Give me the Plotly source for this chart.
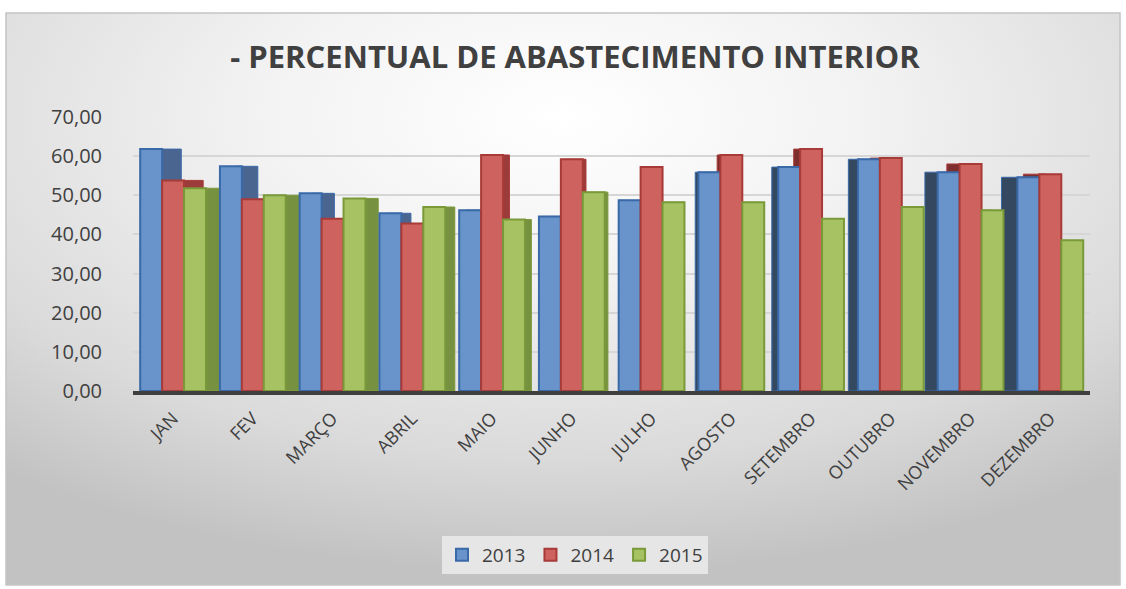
import base64
import plotly.graph_objects as go

# Monthly share of interior supply (%), by year
meses = ["JAN", "FEV", "MARÇO", "ABRIL", "MAIO", "JUNHO", "JULHO",
         "AGOSTO", "SETEMBRO", "OUTUBRO", "NOVEMBRO", "DEZEMBRO"]
anos = ["2013", "2014", "2015"]
v2013 = [61.8, 57.4, 50.5, 45.4, 46.2, 44.6, 48.7, 55.9, 57.2, 59.2, 55.9, 54.6]
v2014 = [53.8, 49.0, 44.0, 42.8, 60.3, 59.2, 57.2, 60.3, 61.8, 59.5, 58.0, 55.4]
v2015 = [51.8, 50.0, 49.2, 47.0, 43.8, 50.8, 48.2, 48.2, 44.0, 47.0, 46.2, 38.5]
valores = [v2013, v2014, v2015]

# face / edge colours per year, plus right-hand and left-hand side shades
frente = ["#6893cb", "#cd625f", "#a6c262"]
borda = ["#3a69a8", "#a83a37", "#7a9a3a"]
lado_dir = ["#4a6690", "#9c3c3a", "#76913f"]
lado_esq = ["#34495f", "#7e2f2d", "#4f4e2b"]

W, H = 1126, 589
ML, MR, MT, MB = 133, 36, 117, 198
PW, PH = W - ML - MR, H - MT - MB

# soft radial backdrop with a thin frame
svg = f"""<svg xmlns='http://www.w3.org/2000/svg' width='{W}' height='{H}' viewBox='0 0 {W} {H}' preserveAspectRatio='none'>
<defs><radialGradient id='g' cx='0.5' cy='0.18' r='0.8' gradientUnits='objectBoundingBox'>
<stop offset='0' stop-color='#ffffff'/><stop offset='0.35' stop-color='#f2f2f2'/>
<stop offset='0.75' stop-color='#dadada'/><stop offset='1' stop-color='#c2c2c2'/></radialGradient></defs>
<rect x='0' y='0' width='{W}' height='{H}' fill='#ffffff'/>
<rect x='6' y='13' width='{W-12}' height='{H-17}' fill='url(#g)' stroke='#c4c4c4' stroke-width='1.5'/>
</svg>"""
bg_uri = "data:image/svg+xml;base64," + base64.b64encode(svg.encode()).decode()

n = len(meses)
idx = list(range(n))
largura = 0.275
inicio = -0.41
# perspective: side faces on the right for early months, on the left for late ones
desloc = [0.04 * (6 - i) for i in idx]

fig = go.Figure()

# side faces first so the fronts sit on top
for s, (ano, vals) in enumerate(zip(anos, valores)):
    base_off = inicio + s * largura
    cores = [lado_dir[s] if d >= 0 else lado_esq[s] for d in desloc]
    fig.add_trace(go.Bar(
        x=idx, y=vals, width=largura,
        offset=[base_off + d for d in desloc],
        marker=dict(color=cores, line=dict(color=borda[s], width=1)),
        showlegend=False, hoverinfo="skip",
    ))

for s, (ano, vals) in enumerate(zip(anos, valores)):
    fig.add_trace(go.Bar(
        x=idx, y=vals, name=ano, width=largura,
        offset=inicio + s * largura,
        marker=dict(color=frente[s], line=dict(color=borda[s], width=2)),
    ))

fig.update_layout(
    width=W, height=H,
    margin=dict(l=ML, r=MR, t=MT, b=MB),
    barmode="overlay",
    separators=",.",
    paper_bgcolor="#ffffff",
    plot_bgcolor="rgba(0,0,0,0)",
    font=dict(family="Open Sans, DejaVu Sans, sans-serif", color="#404040"),
    title=dict(
        text="<b>- PERCENTUAL DE ABASTECIMENTO INTERIOR</b>",
        x=575 / W, xref="container", xanchor="center",
        y=1 - 57 / H, yref="container", yanchor="middle",
        font=dict(size=31, color="#404040", family="Open Sans, sans-serif"),
    ),
    xaxis=dict(
        tickmode="array", tickvals=idx, ticktext=meses,
        range=[-0.5, n - 0.5],
        tickangle=-45, tickfont=dict(size=18, color="#404040"),
        showgrid=False, zeroline=False,
        showline=True, linecolor="#3f3f3f", linewidth=4,
        ticks="", ticklen=0, ticklabelstandoff=6,
    ),
    yaxis=dict(
        range=[0, 70], dtick=10, tickformat=".2f",
        tickfont=dict(size=20, color="#404040"),
        showgrid=True, gridcolor="#d6d6d6", gridwidth=1.5,
        zeroline=False, showline=False, ticks="", ticklabelstandoff=30,
    ),
    legend=dict(
        orientation="h",
        x=575 / W, xref="container", xanchor="center",
        y=1 - 555 / H, yref="container", yanchor="middle",
        bgcolor="#e6e6e6",
        font=dict(size=19, color="#404040"),
        traceorder="normal",
        itemwidth=30,
    ),
    images=[dict(
        source=bg_uri, xref="paper", yref="paper",
        x=-ML / PW, y=1 + MT / PH, sizex=W / PW, sizey=H / PH,
        xanchor="left", yanchor="top", sizing="stretch", layer="below",
    )],
)

fig.write_html("out.html")
